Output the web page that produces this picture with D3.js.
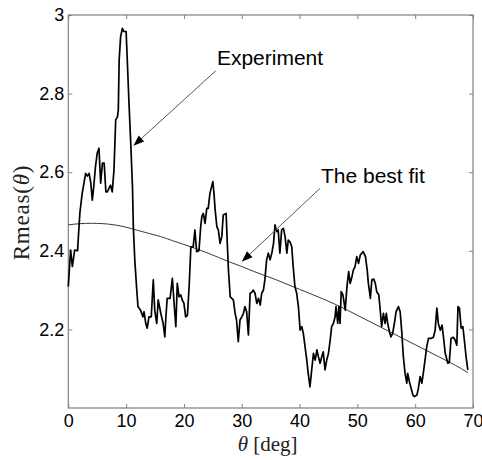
<!DOCTYPE html>
<html>
<head>
<meta charset="utf-8">
<script src="https://cdn.jsdelivr.net/npm/d3@7"></script>
<style>
  html, body { margin: 0; padding: 0; background: #fff; }
  svg { display: block; }
</style>
</head>
<body>
<script>
// ---------------- data ----------------
const thetaExp = [0,0.4,0.7,1.1,1.6,1.85,2.0,2.4,3.0,3.3,3.6,3.9,4.15,4.4,4.7,5.0,5.3,5.6,5.9,6.2,6.5,6.75,7.3,7.6,7.9,8.2,8.5,8.65,8.8,9.05,9.35,9.6,10.0,10.2,10.5,10.8,11.1,11.25,11.5,11.8,12.05,12.5,12.9,13.1,13.4,13.65,13.95,14.35,14.7,14.95,15.3,15.55,16.0,16.4,16.7,16.85,17.1,17.6,18.0,18.3,18.6,18.85,19.15,19.45,19.7,20.0,20.3,20.6,20.9,21.2,21.6,21.9,22.2,22.6,22.9,
23.1,23.35,23.65,23.95,24.2,24.5,25.0,25.2,25.4,25.7,25.95,26.25,26.55,26.8,27.3,27.5,27.7,28.0,28.55,28.85,29.1,29.4,29.7,30.0,30.3,30.55,30.85,31.15,31.45,31.7,32.0,32.3,32.6,32.9,33.2,33.45,33.75,34.0,34.3,34.6,34.9,35.2,35.5,35.75,36.05,36.3,36.6,36.9,37.2,37.5,37.8,38.05,38.35,38.65,38.9,39.2,39.5,39.8,40.1,40.4,40.65,40.95,41.25,41.5,41.8,42.1,42.4,42.7,43.0,43.25,43.55,43.85,44.1,44.4,44.7,45.0,45.3,45.55,45.85,46.15,
46.3,46.6,46.8,47.0,47.2,47.5,47.9,48.2,48.5,48.75,49.0,49.3,49.6,49.9,50.2,50.5,51.0,51.4,51.7,51.9,52.1,52.25,52.5,52.85,53.1,53.35,53.7,53.9,54.2,54.5,54.8,55.0,55.25,55.55,55.8,56.1,56.4,56.7,57.1,57.4,57.7,57.95,58.25,58.55,58.7,59.0,59.3,59.6,59.85,60.3,60.55,60.85,61.15,61.4,61.7,62.0,62.3,62.75,63.15,63.45,63.75,64.0,64.35,64.65,64.95,65.2,65.65,65.9,66.2,66.6,66.9,67.2,67.4,67.65,67.95,68.25,68.5,68.8,69.1];

const rExp = [2.309,2.402,2.36,2.402,2.40,2.461,2.496,2.546,2.597,2.59,2.597,2.572,2.529,2.563,2.614,2.648,2.661,2.572,2.623,2.623,2.55,2.55,2.567,2.55,2.606,2.733,2.741,2.758,2.886,2.945,2.966,2.958,2.958,2.886,2.775,2.674,2.563,2.461,2.377,2.309,2.258,2.249,2.232,2.245,2.215,2.203,2.232,2.232,2.326,2.249,2.215,2.275,2.241,2.215,2.181,2.224,2.279,2.279,2.33,2.266,2.207,2.317,2.283,2.288,2.275,2.266,2.232,2.236,2.309,2.41,2.41,2.453,2.398,2.40,2.461,
2.487,2.495,2.47,2.508,2.508,2.546,2.576,2.546,2.504,2.461,2.453,2.419,2.436,2.491,2.495,2.419,2.351,2.283,2.275,2.241,2.224,2.169,2.224,2.232,2.241,2.258,2.245,2.186,2.292,2.294,2.30,2.292,2.266,2.279,2.262,2.292,2.30,2.326,2.377,2.394,2.377,2.394,2.419,2.466,2.449,2.453,2.394,2.453,2.457,2.436,2.394,2.427,2.423,2.41,2.36,2.309,2.292,2.258,2.198,2.207,2.19,2.156,2.122,2.088,2.054,2.097,2.139,2.122,2.148,2.131,2.114,2.131,2.143,2.097,2.122,2.139,2.173,2.207,2.215,2.232,
2.258,2.215,2.258,2.215,2.296,2.288,2.249,2.309,2.347,2.317,2.33,2.351,2.36,2.385,2.368,2.389,2.398,2.385,2.351,2.317,2.296,2.279,2.326,2.328,2.317,2.296,2.288,2.258,2.207,2.241,2.215,2.241,2.215,2.194,2.181,2.19,2.215,2.245,2.258,2.245,2.19,2.131,2.088,2.063,2.088,2.067,2.05,2.033,2.029,2.033,2.05,2.08,2.063,2.088,2.122,2.156,2.177,2.177,2.18,2.198,2.254,2.215,2.198,2.211,2.173,2.139,2.114,2.116,2.177,2.18,2.173,2.16,2.258,2.254,2.203,2.207,2.173,2.131,2.097];

const thetaFit = [0,2,4,6,8,10,12,14,16,18,20,22,24,26,28,30,32,34,36,38,40,42,44,46,48,50,52,54,56,58,60,62,64,66,68,69.1];
const rFit = [2.466,2.469,2.470,2.469,2.466,2.460,2.452,2.444,2.436,2.426,2.416,2.406,2.395,2.383,2.371,2.360,2.348,2.337,2.326,2.314,2.302,2.290,2.278,2.265,2.251,2.236,2.221,2.206,2.191,2.176,2.161,2.146,2.131,2.116,2.100,2.090];

const xTicks = [0,10,20,30,40,50,60,70];
const yTicks = [2.2,2.4,2.6,2.8,3];
const yTickLabels = ["2.2","2.4","2.6","2.8","3"];

// annotations
const annLabels = ["Experiment","The best fit"];
const annText = [[25.7,2.873],[43.7,2.572]];
const annTail = [[25.5,2.858],[43.55,2.559]];
const annTip  = [[11.25,2.667],[30.0,2.372]];

// ---------------- layout ----------------
const W = 482, H = 460;
const L = 68.3, R = 473, T = 15, B = 408;

const svg = d3.select("body").append("svg").attr("width", W).attr("height", H);
svg.append("rect").attr("width", W).attr("height", H).attr("fill", "#fff");

const x = d3.scaleLinear().domain([0,70]).range([L,R]);
const y = d3.scaleLinear().domain([2,3]).range([B,T]);

const axisColor = "#808080";
const tickFont = "Liberation Sans, Arial, sans-serif";

function styleAxis(g, showLabels) {
  g.select(".domain").remove();
  g.selectAll(".tick line").attr("stroke", axisColor);
  g.selectAll(".tick text")
    .attr("fill", "#000")
    .style("font-family", tickFont)
    .style("font-size", "18px");
  if (!showLabels) g.selectAll(".tick text").remove();
}

svg.append("g").attr("transform", `translate(0,${B})`)
  .call(d3.axisBottom(x).tickValues(xTicks).tickFormat(d3.format("d")).tickSizeInner(-4).tickSizeOuter(0).tickPadding(6))
  .call(g => styleAxis(g, true));
svg.append("g").attr("transform", `translate(0,${T})`)
  .call(d3.axisTop(x).tickValues(xTicks).tickSizeInner(-4).tickSizeOuter(0))
  .call(g => styleAxis(g, false));
svg.append("g").attr("transform", `translate(${L},0)`)
  .call(d3.axisLeft(y).tickValues(yTicks).tickFormat((d,i) => yTickLabels[i]).tickSizeInner(-4).tickSizeOuter(0).tickPadding(4))
  .call(g => styleAxis(g, true));
svg.append("g").attr("transform", `translate(${R},0)`)
  .call(d3.axisRight(y).tickValues(yTicks).tickSizeInner(-4).tickSizeOuter(0))
  .call(g => styleAxis(g, false));

// box
svg.append("rect").attr("x", L).attr("y", T).attr("width", R - L).attr("height", B - T)
  .attr("fill", "none").attr("stroke", axisColor).attr("stroke-width", 1.2);

// fit line
svg.append("path")
  .datum(thetaFit.map((t,i) => [t, rFit[i]]))
  .attr("d", d3.line().x(d => x(d[0])).y(d => y(d[1])).curve(d3.curveMonotoneX))
  .attr("fill", "none").attr("stroke", "#3a3a3a").attr("stroke-width", 1);

// experiment line
svg.append("path")
  .datum(thetaExp.map((t,i) => [t, rExp[i]]))
  .attr("d", d3.line().x(d => x(d[0])).y(d => y(d[1])))
  .attr("fill", "none").attr("stroke", "#000").attr("stroke-width", 1.7)
  .attr("stroke-linejoin", "round");

// annotations
annLabels.forEach((lab, i) => {
  const x0 = x(annTail[i][0]), y0 = y(annTail[i][1]);
  const x1 = x(annTip[i][0]), y1 = y(annTip[i][1]);
  const ang = Math.atan2(y1 - y0, x1 - x0);
  const len = 11, hw = 4;
  const bx = x1 - len * Math.cos(ang), by = y1 - len * Math.sin(ang);
  svg.append("line").attr("x1", x0).attr("y1", y0).attr("x2", bx).attr("y2", by)
    .attr("stroke", "#555").attr("stroke-width", 1);
  const p1 = [bx + hw * Math.sin(ang), by - hw * Math.cos(ang)];
  const p2 = [bx - hw * Math.sin(ang), by + hw * Math.cos(ang)];
  svg.append("path").attr("d", `M${x1},${y1}L${p1[0]},${p1[1]}L${p2[0]},${p2[1]}Z`).attr("fill", "#000");
  svg.append("text").attr("x", x(annText[i][0])).attr("y", y(annText[i][1]))
    .style("font-family", tickFont).style("font-size", "21px").attr("fill", "#000")
    .text(lab);
});

// axis labels
const serif = "Liberation Serif, 'DejaVu Serif', serif";
const xl = svg.append("text").attr("x", (L + R) / 2 - 3).attr("y", 451)
  .attr("text-anchor", "middle").style("font-family", serif).style("font-size", "21px").attr("fill", "#222");
xl.append("tspan").style("font-style", "italic").text("θ");
xl.append("tspan").text(" [deg]");

const yl = svg.append("text").attr("transform", `translate(29,${(T + B) / 2 + 1}) rotate(-90)`)
  .attr("text-anchor", "middle").style("font-family", serif).style("font-size", "23px")
  .style("letter-spacing", "0.8px").attr("fill", "#222");
yl.append("tspan").text("Rmeas(");
yl.append("tspan").style("font-style", "italic").text("θ");
yl.append("tspan").text(")");
</script>
</body>
</html>
